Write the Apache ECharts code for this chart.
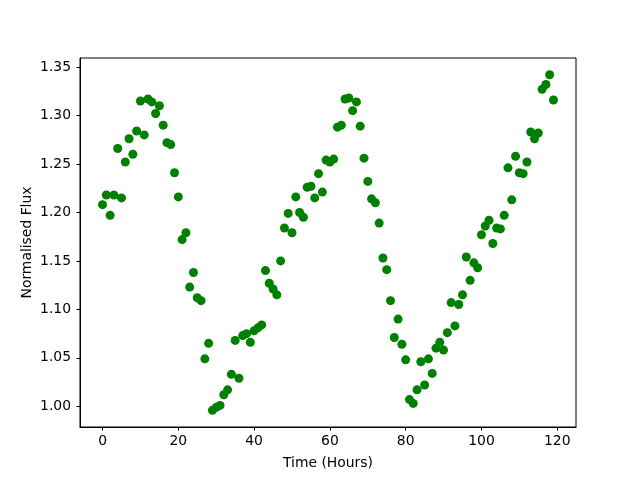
<!DOCTYPE html>
<html>
<head>
<meta charset="utf-8">
<script src="https://cdn.jsdelivr.net/npm/echarts@6/dist/echarts.min.js"></script>
<style>
  html, body { margin: 0; padding: 0; background: #fff; }
  #chart { width: 640px; height: 480px; }
</style>
</head>
<body>
<div id="chart"></div>
<script>
// time in hours, one reading per hour
const hours = [];
for (let i = 0; i < 120; i++) hours.push(i);

// normalised flux
const flux = [
  1.208, 1.218, 1.197, 1.218, 1.266, 1.215, 1.252, 1.276, 1.260, 1.284,
  1.315, 1.280, 1.317, 1.314, 1.302, 1.310, 1.290, 1.272, 1.270, 1.241,
  1.216, 1.172, 1.179, 1.123, 1.138, 1.112, 1.109, 1.049, 1.065, 0.996,
  0.999, 1.001, 1.012, 1.017, 1.033, 1.068, 1.029, 1.073, 1.075, 1.066,
  1.078, 1.081, 1.084, 1.140, 1.127, 1.121, 1.115, 1.150, 1.184, 1.199,
  1.179, 1.216, 1.200, 1.195, 1.226, 1.227, 1.215, 1.240, 1.221, 1.254,
  1.252, 1.255, 1.288, 1.290, 1.317, 1.318, 1.305, 1.314, 1.289, 1.256,
  1.232, 1.214, 1.210, 1.189, 1.153, 1.141, 1.109, 1.071, 1.090, 1.064,
  1.048, 1.007, 1.003, 1.017, 1.046, 1.022, 1.049, 1.034, 1.060, 1.066,
  1.058, 1.076, 1.107, 1.083, 1.105, 1.115, 1.154, 1.130, 1.148, 1.143,
  1.177, 1.186, 1.192, 1.168, 1.184, 1.183, 1.197, 1.246, 1.213, 1.258,
  1.241, 1.240, 1.252, 1.283, 1.276, 1.282, 1.327, 1.332, 1.342, 1.316
];

const xTicks = [0, 20, 40, 60, 80, 100, 120];
const yTicks = [1.00, 1.05, 1.10, 1.15, 1.20, 1.25, 1.30, 1.35];

const chart = echarts.init(document.getElementById('chart'));

const font = 'DejaVu Sans';
const points = hours.map((h, i) => [h, flux[i]]);

const option = {
  animation: false,
  backgroundColor: '#ffffff',
  grid: {
    left: 80,
    right: 64,
    top: 58,
    bottom: 53,
    show: true,
    borderColor: '#000',
    borderWidth: 1,
    backgroundColor: 'transparent'
  },
  xAxis: {
    type: 'value',
    min: -5.95,
    max: 124.95,
    name: 'Time (Hours)',
    nameLocation: 'middle',
    nameGap: 29,
    nameMoveOverlap: false,
    nameTextStyle: { color: '#000', fontFamily: font, fontSize: 13.9 },
    axisLine: { show: true, onZero: false, lineStyle: { color: '#000', width: 1 } },
    axisTick: { show: true, inside: false, length: 3.5, customValues: xTicks, lineStyle: { color: '#000' } },
    axisLabel: { show: true, margin: 7, customValues: xTicks, color: '#000', fontFamily: font, fontSize: 13.9 },
    splitLine: { show: false }
  },
  yAxis: {
    type: 'value',
    min: 0.9787,
    max: 1.3593,
    name: 'Normalised Flux',
    nameLocation: 'middle',
    nameGap: 46,
    nameMoveOverlap: false,
    nameTextStyle: { color: '#000', fontFamily: font, fontSize: 13.9 },
    axisLine: { show: true, onZero: false, lineStyle: { color: '#000', width: 1 } },
    axisTick: { show: true, inside: false, length: 3.5, customValues: yTicks, lineStyle: { color: '#000' } },
    axisLabel: {
      show: true,
      margin: 9,
      customValues: yTicks,
      color: '#000',
      fontFamily: font,
      fontSize: 13.9,
      formatter: function (v) { return v.toFixed(2); }
    },
    splitLine: { show: false }
  },
  series: [
    {
      type: 'scatter',
      data: points,
      symbol: 'circle',
      symbolSize: 9,
      itemStyle: { color: '#008000', opacity: 1 }
    }
  ]
};

chart.setOption(option);
</script>
</body>
</html>
